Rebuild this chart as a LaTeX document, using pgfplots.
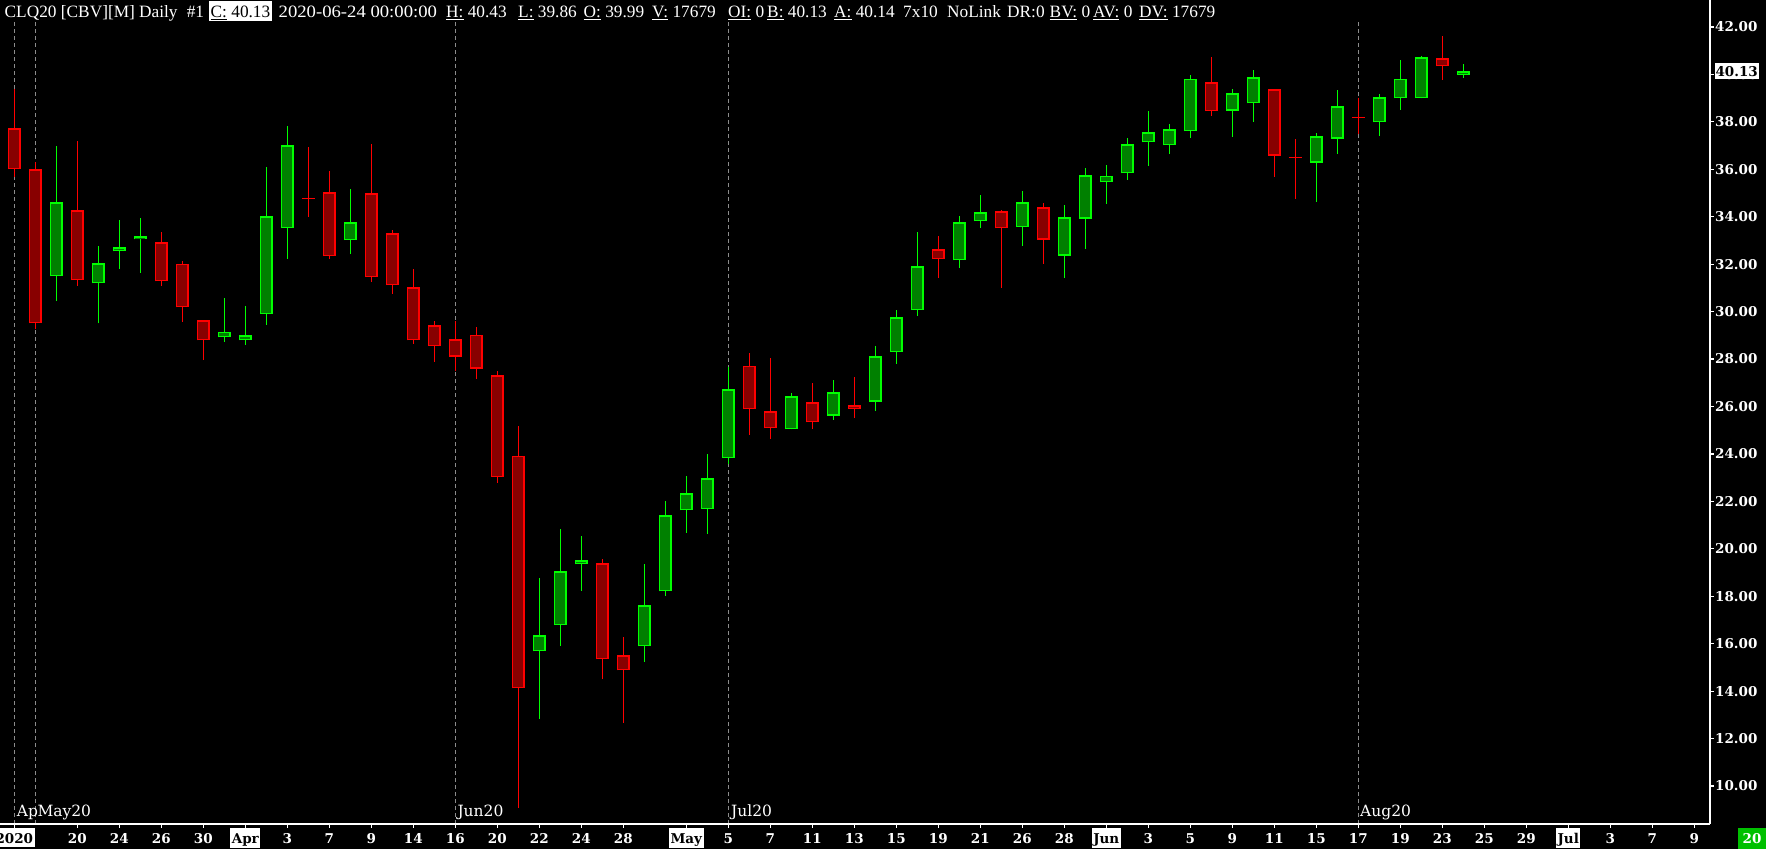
\documentclass[border=0pt]{standalone}
\usepackage{fontspec}
\setmainfont{Liberation Serif}
\newfontfamily\dvserif{DejaVu Serif}
\usepackage{pgfplots}
\usepackage{pgfplotstable}
\pgfplotsset{compat=1.18}

\definecolor{upedge}{RGB}{0,255,0}
\definecolor{upfill}{RGB}{0,128,0}
\definecolor{dnedge}{RGB}{255,0,0}
\definecolor{dnfill}{RGB}{136,0,0}
\definecolor{rollline}{RGB}{140,140,140}
\definecolor{tagbg}{RGB}{0,192,0}

\newcommand\hdrfont{\fontsize{17.3pt}{20pt}\selectfont}
\newcommand\axfont{\dvserif\bfseries\fontsize{13.5pt}{16pt}\selectfont}
\newcommand\monfont{\dvserif\fontsize{15.5pt}{18pt}\selectfont}
\newcommand\hl[1]{{\setlength{\fboxsep}{1.5pt}\colorbox{white}{\textcolor{black}{\rule[-2.5pt]{0pt}{16.6pt}#1}}}}
\newcommand\wide[1]{\scalebox{1.08}[1]{#1}}

% rising sessions: index, open, high, low, close
\pgfplotstableread{
i  O     H     L     C
2  31.49 36.98 30.46 34.61
4  31.19 32.77 29.51 32.04
5  32.54 33.86 31.81 32.71
6  33.05 33.95 31.64 33.17
10 28.92 30.58 28.73 29.16
11 28.79 30.24 28.60 29.00
12 29.89 36.10 29.45 34.02
13 33.51 37.83 32.23 37.01
16 33.01 35.17 32.44 33.77
25 15.68 18.77 12.84 16.35
26 16.78 20.84 15.92 19.05
27 19.35 20.54 18.24 19.52
30 15.89 19.36 15.24 17.62
31 18.21 22.02 18.03 21.41
32 21.62 23.07 20.68 22.34
33 21.67 24.00 20.64 22.97
34 23.82 27.68 23.56 26.73
37 25.04 26.56 25.04 26.43
39 25.61 27.12 25.44 26.60
41 26.20 28.55 25.82 28.12
42 28.29 30.07 27.81 29.76
43 30.06 33.36 29.83 31.91
45 32.16 34.03 31.85 33.77
46 33.81 34.92 33.54 34.19
48 33.56 35.09 32.78 34.61
50 32.36 34.50 31.43 33.98
51 33.92 36.06 32.65 35.75
52 35.45 36.18 34.55 35.71
53 35.83 37.32 35.56 37.05
54 37.14 38.46 36.15 37.56
55 37.01 37.91 36.66 37.69
56 37.60 39.98 37.33 39.80
58 38.47 39.39 37.38 39.20
59 38.78 40.19 38.01 39.88
62 36.28 37.53 34.64 37.39
63 37.29 39.33 36.66 38.66
65 37.98 39.18 37.42 39.04
66 38.99 40.61 38.51 39.80
67 38.99 40.78 38.99 40.72
69 39.99 40.43 39.86 40.13
}\upbars

% falling sessions
\pgfplotstableread{
i  O     H     L     C
0  37.73 39.37 35.69 36.00
1  36.00 36.31 29.25 29.51
3  34.27 37.19 31.10 31.32
7  32.92 33.36 31.10 31.28
8  32.00 32.13 29.58 30.18
9  29.63 29.63 27.98 28.79
15 35.03 35.93 32.23 32.33
17 34.99 37.07 31.26 31.45
18 33.30 33.44 30.76 31.11
19 31.03 31.80 28.65 28.79
20 29.42 29.61 27.89 28.55
21 28.83 29.61 27.50 28.10
22 29.02 29.35 27.16 27.60
23 27.32 27.50 22.79 23.02
24 23.91 25.18 9.09  14.12
28 19.39 19.57 14.50 15.34
29 15.51 16.28 12.67 14.88
35 27.70 28.24 24.81 25.88
36 25.80 28.05 24.64 25.08
38 26.18 26.99 25.05 25.33
40 26.05 27.24 25.53 25.91
44 32.63 33.19 31.43 32.21
47 34.23 34.27 31.01 33.51
49 34.40 34.58 32.02 33.03
57 39.67 40.74 38.26 38.45
60 39.37 39.37 35.69 36.57
68 40.68 41.62 39.78 40.34
}\dnbars

% unchanged sessions (open = close)
\pgfplotstableread{
i  O     H     L     C
14 34.78 36.94 34.00 34.78
61 36.51 37.26 34.75 36.51
64 38.19 39.02 37.48 38.19
}\flatbars

\begin{document}
\begin{tikzpicture}[x=1pt,y=1pt]
\fill[black] (0pt,0pt) rectangle (1766pt,849pt);

% contract roll markers
\foreach \k in {0,1,21,34,64}{
  \draw[rollline, line width=1pt, dash pattern=on 4pt off 3pt] ({14.3+21*\k},25) -- ({14.3+21*\k},827);
}
\begin{scope}[every node/.style={anchor=base west, inner sep=0pt, text=white, font=\monfont}]
  \node at (16.7,32.3) {Ap};
  \node at (37.3,32.3) {May20};
  \node at (457.3,32.3) {Jun20};
  \node at (731,32.3) {Jul20};
  \node at (1360,32.3) {Aug20};
\end{scope}

\begin{axis}[
  at={(0pt,25pt)}, anchor=south west,
  scale only axis, width=1710pt, height=824pt,
  xmin=-0.681, xmax=80.75,
  ymin=8.40, ymax=43.138,
  axis x line=bottom, axis y line=right,
  axis line style={white, line width=1.3pt, -},
  tick align=outside, major tick length=3.5pt,
  tick style={white, line width=1.2pt},
  xtick={0,3,5,7,9,11,13,15,17,19,21,23,25,27,29,32,34,36,38,40,42,44,46,48,50,52,54,56,58,60,62,64,66,68,70,72,74,76,78,80},
  xticklabels={\hl{2020},20,24,26,30,\hl{Apr},3,7,9,14,16,20,22,24,28,\hl{May},5,7,11,13,15,19,21,26,28,\hl{Jun},3,5,9,11,15,17,19,23,25,29,\hl{Jul},3,7,9},
  xticklabel style={font=\axfont, text=white, anchor=base, inner sep=0pt, yshift=-15.8pt},
  ytick={10,12,...,42},
  yticklabel={\pgfmathprintnumber[fixed,fixed zerofill,precision=2]{\tick}},
  yticklabel style={font=\axfont, text=white, anchor=west, inner sep=0pt, xshift=1.5pt},
  /pgf/number format/assume math mode=true,
]
% wicks
\addplot[color=upedge, line width=1.2pt, mark=none, quiver={u=0, v=\thisrow{H}-\thisrow{L}}] table[x=i, y=L] {\upbars};
\addplot[color=dnedge, line width=1.2pt, mark=none, quiver={u=0, v=\thisrow{H}-\thisrow{L}}] table[x=i, y=L] {\dnbars};
\addplot[color=dnedge, line width=1.2pt, mark=none, quiver={u=0, v=\thisrow{H}-\thisrow{L}}] table[x=i, y=L] {\flatbars};
% bodies: outline then fill
\addplot[color=upedge, line width=12.5pt, mark=none, quiver={u=0, v=\thisrow{C}-\thisrow{O}}] table[x=i, y=O] {\upbars};
\addplot[color=upfill, line width=10pt, shorten <=1.3pt, shorten >=1.3pt, mark=none, quiver={u=0, v=\thisrow{C}-\thisrow{O}}] table[x=i, y=O] {\upbars};
\addplot[color=dnedge, line width=12.5pt, mark=none, quiver={u=0, v=\thisrow{O}-\thisrow{C}}] table[x=i, y=C] {\dnbars};
\addplot[color=dnfill, line width=10pt, shorten <=1.3pt, shorten >=1.3pt, mark=none, quiver={u=0, v=\thisrow{O}-\thisrow{C}}] table[x=i, y=C] {\dnbars};
% open = close ticks
\addplot[color=dnedge, line width=1.3pt, mark=none, quiver={u=0.6, v=0}] table[x expr=\thisrow{i}-0.3, y=O] {\flatbars};
\end{axis}

% last price tag and corner tag
\node[fill=white, text=black, font=\axfont, anchor=west, inner xsep=0.8pt, inner ysep=3pt] at (1714.5,777.6) {40.13};
\node[fill=tagbg, text=white, font=\axfont, minimum width=28pt, minimum height=21pt, inner sep=0pt] at (1752,10.5) {20};

% header line
\begin{scope}[every node/.style={anchor=base west, inner sep=0pt, text=white, font=\hdrfont}]
  \node at (4.5,831.5) {CLQ20 [CBV][M]};
  \node at (139,831.5) {Daily};
  \node at (186.6,831.5) {\#1};
  \node[fill=white, text=black, inner xsep=1.5pt, text height=16.5pt, text depth=3.5pt] at (209,831.5) {\underline{C:} 40.13};
  \node at (278.5,831.5) {\wide{2020-06-24 00:00:00}};
  \node at (446,831.5) {\underline{H:} 40.43};
  \node at (518,831.5) {\underline{L:} 39.86};
  \node at (583.5,831.5) {\underline{O:} 39.99};
  \node at (652,831.5) {\underline{V:} 17679};
  \node at (728,831.5) {\underline{OI:} 0};
  \node at (767,831.5) {\underline{B:} 40.13};
  \node at (834,831.5) {\underline{A:} 40.14};
  \node at (903,831.5) {7x10};
  \node at (947,831.5) {NoLink};
  \node at (1007,831.5) {DR:0};
  \node at (1049.5,831.5) {\underline{BV:} 0};
  \node at (1093,831.5) {\underline{AV:} 0};
  \node at (1139,831.5) {\underline{DV:} 17679};
\end{scope}

\pgfresetboundingbox
\path[use as bounding box] (0pt,0pt) rectangle (1766pt,849pt);
\end{tikzpicture}
\end{document}
